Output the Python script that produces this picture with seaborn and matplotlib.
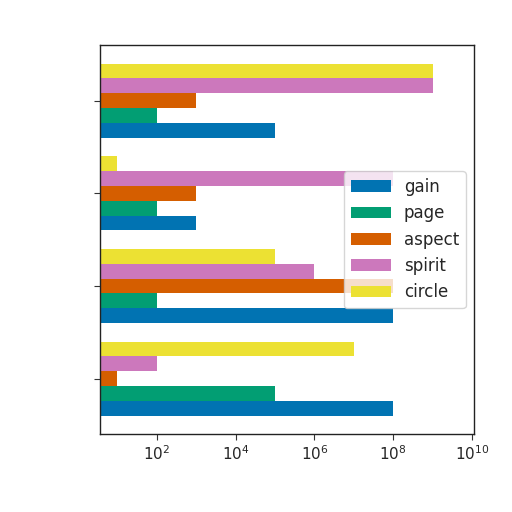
import matplotlib
matplotlib.use("Agg")
import matplotlib.pyplot as plt
import matplotlib.ticker as mticker
import seaborn as sns
import pandas as pd

# Category groups, listed bottom to top (no visible labels in the reference)
categories = ["c0", "c1", "c2", "c3"]
category_labels = ["", "", "", ""]
series = ["gain", "page", "aspect", "spirit", "circle"]
gain = [1e8, 1e8, 1e3, 1e5]
page = [1e5, 1e2, 1e2, 1e2]
aspect = [1e1, 1e8, 1e3, 1e3]
spirit = [1e2, 1e6, 1e8, 1e9]
circle = [1e7, 1e5, 1e1, 1e9]
colors = ["#0173b2", "#029e73", "#d55e00", "#cc78bc", "#ece133"]
xticks = [1e2, 1e4, 1e6, 1e8, 1e10]

values = {"gain": gain, "page": page, "aspect": aspect, "spirit": spirit, "circle": circle}
rows = []
for s in series:
    for c, v in zip(categories, values[s]):
        rows.append({"cat": c, "series": s, "value": v})
df = pd.DataFrame(rows)

sns.set_style("white")
fig = plt.figure(figsize=(5.12, 5.12), dpi=100)
ax = fig.add_axes([0.195, 0.152, 0.731, 0.76])
sns.barplot(data=df, y="cat", x="value", hue="series", order=categories,
            hue_order=series, palette=colors, orient="h", ax=ax,
            saturation=1, width=0.8, linewidth=0)
ax.set_ylim(-0.6, 3.6)
ax.set_xscale("log")
ax.set_xlim(10**0.56, 10**10.05)
ax.set_xticks(xticks)
ax.xaxis.set_minor_locator(mticker.NullLocator())
ax.set_yticks(range(len(categories)))
ax.set_yticklabels(category_labels)
ax.set_xlabel("")
ax.set_ylabel("")
ax.tick_params(axis="both", which="major", length=4, width=0.8, color="#333333",
               labelsize=11, bottom=True, left=True)
for sp in ax.spines.values():
    sp.set_visible(True)
    sp.set_color("#222222")
    sp.set_linewidth(1.0)
ax.legend(loc="center right", fontsize=12, frameon=True, handlelength=2.4)
fig.savefig("out.png", dpi=100)
